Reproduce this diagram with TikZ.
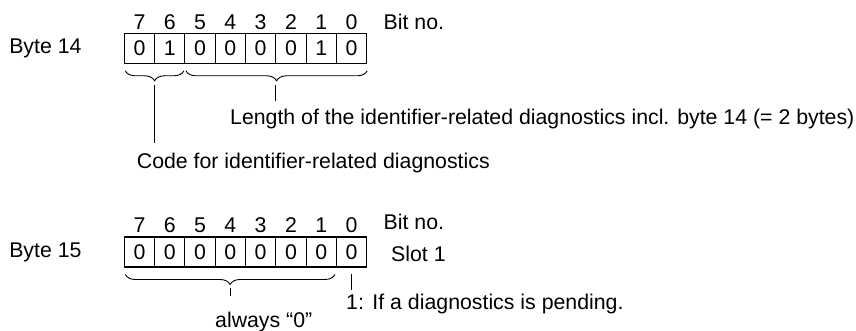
\documentclass[tikz,border=0pt]{standalone}
\usepackage{fontspec}
\setmainfont{Liberation Sans}
\usetikzlibrary{positioning,calc,decorations.pathreplacing}
\tikzset{
  bitcell/.style={rectangle,draw,line width=1.1pt,minimum width=30.3pt,
                  minimum height=30pt,inner sep=0pt,outer sep=0pt},
  lbl/.style={inner sep=0pt,anchor=base west},
  brc/.style={decorate,decoration={brace,mirror,amplitude=10pt},line width=0.9pt},
  tick/.style={line width=0.9pt},
}

\begin{document}
\begin{tikzpicture}[x=1pt,y=-1pt,
                    every node/.style={font=\fontsize{21.3}{25}\selectfont}]
    \useasboundingbox (0,0) rectangle (856,331);

    % Byte 14
    \foreach \b/\v [count=\i from 0] in {7/0,6/1,5/0,4/0,3/0,2/0,1/1,0/0}{
      \node[bitcell] (a\b) at (139.45+30.3*\i,48.3) {\v};
      \node[inner sep=0pt,above=3.8pt of a\b] (na\b) {\b};
    }
    \node[inner sep=0pt,left=42.6pt of a7] (byteA) {Byte 14};
    \node[inner sep=0pt,right=25.8pt of na0] (bitA) {Bit no.};

    % Byte 15
    \foreach \b [count=\i from 0] in {7,6,5,4,3,2,1,0}{
      \node[bitcell] (b\b) at (139.45+30.3*\i,252) {0};
      \node[inner sep=0pt,above=4pt of b\b] (nb\b) {\b};
    }
    \node[inner sep=0pt,left=42.6pt of b7] (byteB) {Byte 15};
    \node[inner sep=0pt,right=25.8pt of nb0,yshift=3pt] (bitB) {Bit no.};
    \node[inner sep=0pt,right=24.3pt of b0,yshift=-2pt] (slotB) {Slot 1};

    % Explanations
    \node[lbl] (lenA) at (230,124.5)
      {Length of the identifier-related diagnostics incl. byte 14 (= 2 bytes)};
    \node[lbl] (codeA) at (136.7,168) {Code for identifier-related diagnostics};
    \node[lbl] (pendB) at (346,309.5) {1:\hspace{0.4em}If a diagnostics is pending.};
    \node[lbl] (alwB) at (215,327) {always “0”};

    % Braces
    \draw[brc] ([xshift=1pt,yshift=-7.5pt]a7.south west)
            -- ([xshift=-1pt,yshift=-7.5pt]a6.south east);
    \draw[brc] ([xshift=1pt,yshift=-7.5pt]a5.south west)
            -- ([xshift=0.5pt,yshift=-7.5pt]a0.south east);
    \draw[brc] ([xshift=1pt,yshift=-7.5pt]b7.south west)
            -- ([xshift=-1.5pt,yshift=-7.5pt]b1.south east);

    % Leaders
    \coordinate (tipA1) at ($(a7.south west)!.5!(a6.south east)+(0,21.5)$);
    \coordinate (tipA2) at ($(a5.south west)!.5!(a0.south east)+(0,21.5)$);
    \coordinate (tipB1) at ($(b7.south west)!.5!(b1.south east)+(0,20.5)$);
    \coordinate (tipB2) at ($(b0.south)+(0,6.5)$);
    \draw[tick,shorten >=9pt] (tipA1) -- (tipA1 |- codeA.north);
    \draw[tick,shorten >=8pt] (tipA2) -- (tipA2 |- lenA.north);
    \draw[tick,shorten >=15pt] (tipB1) -- (tipB1 |- alwB.north);
    \draw[tick] (tipB2) -- ++(0,16.5);
\end{tikzpicture}
\end{document}
